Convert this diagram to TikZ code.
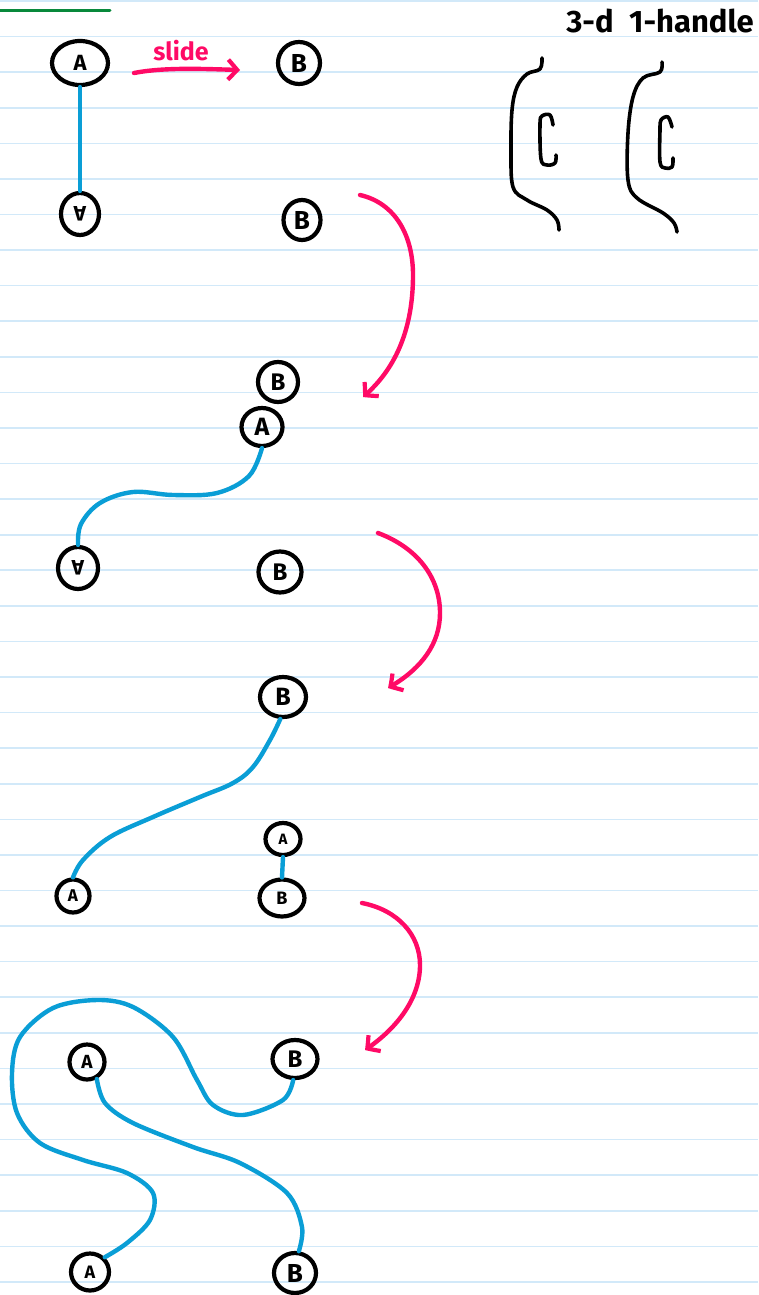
\documentclass[tikz,border=0pt]{standalone}
\usepackage{fontspec}
\setmainfont{Fira Sans}
\usepackage{graphicx}
\usetikzlibrary{shapes.geometric,arrows.meta,bending}
\definecolor{paperline}{HTML}{D2E9F9}
\definecolor{wireblue}{HTML}{0A9ED6}
\definecolor{inkpink}{HTML}{FF0A66}
\definecolor{inkgreen}{HTML}{08893B}
\tikzset{
  ring/.style={draw=black, ellipse, line width=4.2pt, inner sep=0pt,
    font=\bfseries\fontsize{22}{22}\selectfont},
  sz/.style 2 args={minimum width=#1pt, minimum height=#2pt},
  wire/.style={draw=wireblue, line width=4.4pt, line cap=round},
  pinkarrow/.style={draw=inkpink, line width=4.4pt, line cap=round, line join=round,
    -{Straight Barb[length=9pt,width=20pt,line width=4.2pt,bend]}},
  ink/.style={draw=black, line width=3.6pt, line cap=round, line join=round},
}
\begin{document}
\begin{tikzpicture}[x=1pt,y=-1pt]
\useasboundingbox (0,0) rectangle (758,1295);
\fill[white] (0,0) rectangle (758,1295);
% lined paper
\foreach \k in {0,...,36}{
  \draw[paperline, line width=1.6pt] (0,{1+35.58*\k}) -- (758,{1+35.58*\k});
}
% green stroke
\draw[inkgreen, line width=3pt, line cap=round] (0,11) -- (110,11);

% ---------- panel 1 ----------
\node[ring, sz={56}{44}, font=\bfseries\fontsize{22}{22}\selectfont] (A1) at (80,63) {A};
\node[ring, sz={38}{42}, font=\bfseries\fontsize{21}{21}\selectfont] (U1) at (80,214) {\rotatebox{180}{A}};
\node[ring, sz={42}{42}, font=\bfseries\fontsize{26}{26}\selectfont] (B1) at (299,63) {B};
\node[ring, sz={37}{40}, font=\bfseries\fontsize{26}{26}\selectfont] (B2) at (302,220) {B};
\draw[wire] (A1.south) -- (U1.north);

\node[text=inkpink, font=\bfseries\fontsize{25}{25}\selectfont, anchor=base] (slide) at (181,61) {slide};
\coordinate (s1) at (134,73);
\coordinate (s2) at (240,70);
\draw[pinkarrow] (s1) .. controls (165,67) and (205,69) .. (s2);

% 3-d 1-handle
\node[font=\bfseries\fontsize{31}{31}\selectfont, anchor=base] (title) at (660,33) {3-d\,\,\,1-handle};
\draw[ink] plot[smooth, tension=0.6] coordinates {(542,58) (540,69) (527,74) (517,87) (512,110) (511,150) (513,187) (527,200) (547,210) (557,220) (559,230)};
\draw[ink] plot[smooth, tension=0.6] coordinates {(553,125) (550,115) (542,116) (540,124) (541,159) (547,165) (555,163) (556,155)};
\draw[ink] plot[smooth, tension=0.6] coordinates {(662,62) (660,72) (643,78) (633,97) (628,133) (628,180) (637,198) (663,213) (674,223) (677,232)};
\draw[ink] plot[smooth, tension=0.6] coordinates {(672,127) (668,117) (661,120) (660,130) (660,162) (665,168) (672,167) (673,158)};

% arrow 1
\coordinate (p1s) at (360,195);
\coordinate (p1e) at (363,397);
\draw[pinkarrow] (p1s) .. controls (395,203) and (413,235) .. (413,275) .. controls (413,330) and (395,370) .. (p1e);

% ---------- panel 2 ----------
\node[ring, sz={40}{40}, font=\bfseries\fontsize{24}{24}\selectfont] (B3) at (278,382) {B};
\node[ring, sz={41}{38}, font=\bfseries\fontsize{25}{25}\selectfont] (A2) at (262,427) {A};
\node[ring, sz={40}{42}, font=\bfseries\fontsize{21}{21}\selectfont] (U2) at (78,568) {\rotatebox{180}{A}};
\node[ring, sz={43}{41}, font=\bfseries\fontsize{24}{24}\selectfont] (B4) at (280,572) {B};
\draw[wire] plot[smooth, tension=0.6] coordinates {(A2.south) (249,476) (217,493) (173,495) (133,492) (100,503) (81,524) (U2.north)};

% arrow 2
\coordinate (p2s) at (378,533);
\coordinate (p2e) at (388,688);
\draw[pinkarrow] (p2s) .. controls (418,548) and (440,578) .. (440,613) .. controls (440,645) and (420,670) .. (p2e);

% ---------- panel 3 ----------
\node[ring, sz={46}{40}, font=\bfseries\fontsize{25}{25}\selectfont] (B5) at (283,697) {B};
\node[ring, sz={33}{33}, font=\bfseries\fontsize{17}{17}\selectfont] (A3) at (73,896) {A};
\node[ring, sz={35}{32}, font=\bfseries\fontsize{15}{15}\selectfont] (a3) at (283,839) {A};
\node[ring, sz={45}{37}, font=\bfseries\fontsize{18}{18}\selectfont] (B6) at (282,898) {B};
\draw[wire] plot[smooth, tension=0.6] coordinates {(B5.263) (270,740) (253,767) (233,783) (200,797) (153,817) (110,837) (83,860) (A3.north)};
\draw[wire] (a3.south) -- (B6.north);

% arrow 3
\coordinate (p3s) at (362,903);
\coordinate (p3e) at (365,1050);
\draw[pinkarrow] (p3s) .. controls (398,910) and (420,935) .. (420,965) .. controls (420,1000) and (395,1030) .. (p3e);

% ---------- panel 4 ----------
\node[ring, sz={35}{35}, font=\bfseries\fontsize{19}{19}\selectfont] (A4) at (87,1062) {A};
\node[ring, sz={45}{38}, font=\bfseries\fontsize{24}{24}\selectfont] (B7) at (295,1059) {B};
\node[ring, sz={38}{37}, font=\bfseries\fontsize{18}{18}\selectfont] (A5) at (90,1272) {A};
\node[ring, sz={42}{40}, font=\bfseries\fontsize{26}{26}\selectfont] (B8) at (295,1273) {B};
\draw[wire] plot[smooth, tension=0.55] coordinates {(B7.265) (283,1100) (243,1115) (213,1105) (197,1080) (173,1037) (133,1007) (97,1000) (53,1008) (20,1037) (12,1073) (17,1113) (40,1143) (83,1160) (127,1173) (153,1193) (150,1220) (127,1243) (A5.45)};
\draw[wire] plot[smooth, tension=0.55] coordinates {(A4.-60) (105,1103) (133,1123) (193,1147) (240,1163) (287,1193) (302,1227) (B8.80)};
\end{tikzpicture}
\end{document}
